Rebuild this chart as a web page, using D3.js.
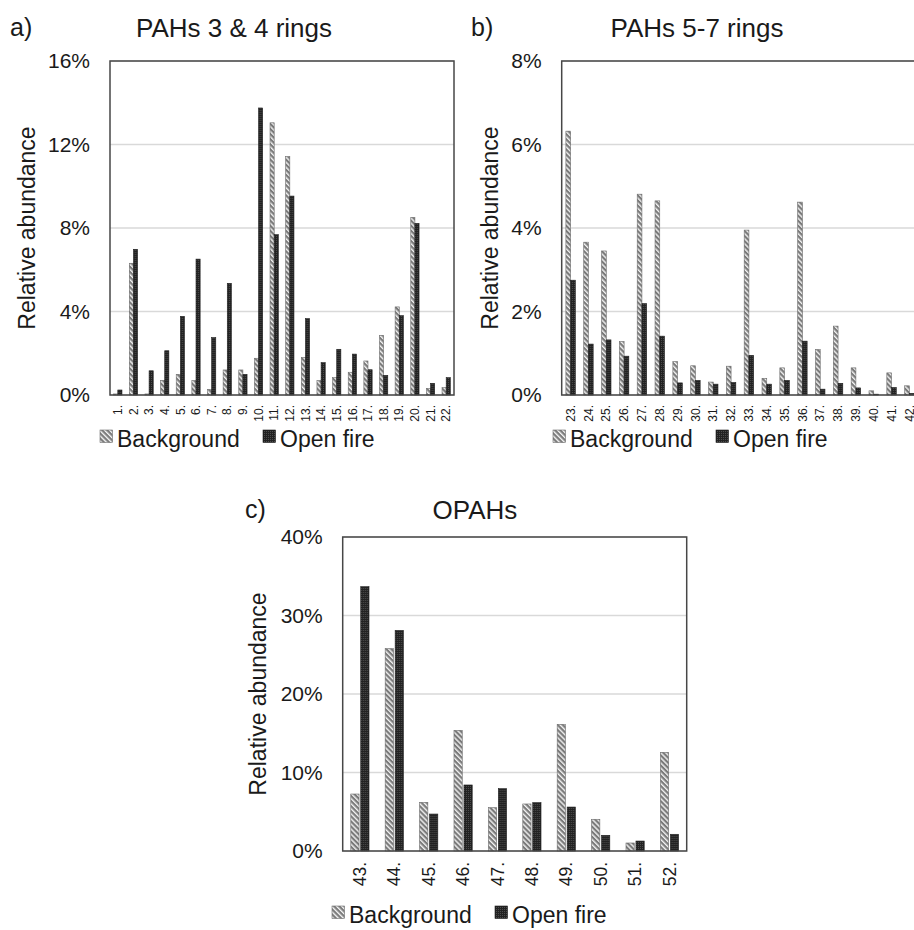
<!DOCTYPE html>
<html>
<head>
<meta charset="utf-8">
<script src="https://cdn.jsdelivr.net/npm/d3@7"></script>
<style>
  body { margin: 0; background: #fff; }
  text { font-family: "Liberation Sans", Arial, sans-serif; fill: #1a1a1a; }
</style>
</head>
<body>
<div id="chart"></div>
<script>
// values in percent

// a) PAHs 3 & 4 rings
const labelsA = ["1.", "2.", "3.", "4.", "5.", "6.", "7.", "8.", "9.", "10.", "11.",
    "12.", "13.", "14.", "15.", "16.", "17.", "18.", "19.", "20.", "21.", "22."];
const backgroundA = [0.05, 6.31, 0.05, 0.70, 0.99, 0.69, 0.27, 1.20, 1.20, 1.76, 13.04,
    11.42, 1.80, 0.69, 0.83, 1.09, 1.63, 2.86, 4.22, 8.51, 0.32, 0.35];
const openFireA = [0.24, 6.98, 1.16, 2.12, 3.77, 6.51, 2.75, 5.35, 0.99, 13.75, 7.68,
    9.53, 3.66, 1.55, 2.19, 1.96, 1.21, 0.94, 3.80, 8.22, 0.56, 0.83];
const ticksA = [0, 4, 8, 12, 16];

// b) PAHs 5-7 rings
const labelsB = ["23.", "24.", "25.", "26.", "27.", "28.", "29.", "30.", "31.", "32.",
    "33.", "34.", "35.", "36.", "37.", "38.", "39.", "40.", "41.", "42."];
const backgroundB = [6.32, 3.66, 3.45, 1.28, 4.81, 4.65, 0.80, 0.70, 0.31, 0.69,
    3.95, 0.40, 0.65, 4.62, 1.09, 1.65, 0.65, 0.10, 0.53, 0.22];
const openFireB = [2.75, 1.22, 1.32, 0.93, 2.19, 1.41, 0.29, 0.35, 0.26, 0.30,
    0.95, 0.26, 0.35, 1.29, 0.14, 0.28, 0.17, 0.02, 0.18, 0.04];
const ticksB = [0, 2, 4, 6, 8];

// c) OPAHs
const labelsC = ["43.", "44.", "45.", "46.", "47.", "48.", "49.", "50.", "51.", "52."];
const backgroundC = [7.26, 25.78, 6.20, 15.37, 5.52, 5.99, 16.14, 4.04, 1.02, 12.57];
const openFireC = [33.67, 28.10, 4.71, 8.41, 7.94, 6.16, 5.60, 2.00, 1.27, 2.13];
const ticksC = [0, 10, 20, 30, 40];

const seriesNames = ["Background", "Open fire"];

const svgWidth = 914;
const svgHeight = 930;

const svg = d3.select("#chart")
    .append("svg")
    .attr("width", svgWidth)
    .attr("height", svgHeight);

// fill patterns for the two series
const defs = svg.append("defs");

const hatch = defs.append("pattern")
    .attr("id", "hatch")
    .attr("patternUnits", "userSpaceOnUse")
    .attr("width", 3.6)
    .attr("height", 3.6)
    .attr("patternTransform", "rotate(-45)");
hatch.append("rect").attr("width", 3.6).attr("height", 3.6).attr("fill", "#7a7a7a");
hatch.append("rect").attr("width", 1.4).attr("height", 3.6).attr("fill", "#f2f2f2");

const dots = defs.append("pattern")
    .attr("id", "dots")
    .attr("patternUnits", "userSpaceOnUse")
    .attr("width", 2)
    .attr("height", 2);
dots.append("rect").attr("width", 2).attr("height", 2).attr("fill", "#222");
dots.append("rect").attr("width", 1).attr("height", 1).attr("fill", "#4d4d4d");

const fills = ["url(#hatch)", "url(#dots)"];
const strokes = ["#6b6b6b", "#1e1e1e"];

const panels = [
    {
        letter: "a)", letterX: 10, title: "PAHs 3 & 4 rings", titleX: 234, titleY: 37,
        labels: labelsA, bg: backgroundA, fire: openFireA, ticks: ticksA,
        left: 110, right: 454, top: 61, bottom: 395,
        innerGap: 0, xFont: 12, xPad: 10, yLabelX: 35,
        legendX: 100, legendY: 447
    },
    {
        letter: "b)", letterX: 471, title: "PAHs 5-7 rings", titleX: 697, titleY: 37,
        labels: labelsB, bg: backgroundB, fire: openFireB, ticks: ticksB,
        left: 561.7, right: 918.3, top: 61, bottom: 395,
        innerGap: 0, xFont: 12, xPad: 10, yLabelX: 498,
        legendX: 553, legendY: 447
    },
    {
        letter: "c)", letterX: 245, title: "OPAHs", titleX: 475, titleY: 519,
        labels: labelsC, bg: backgroundC, fire: openFireC, ticks: ticksC,
        left: 342.7, right: 686.7, top: 537, bottom: 851,
        innerGap: 0.17, xFont: 17.5, xPad: 11, yLabelX: 266,
        legendX: 332, legendY: 923
    }
];

function drawPanel(p) {
    const g = svg.append("g");

    const x = d3.scaleBand()
        .domain(p.labels)
        .range([p.left, p.right])
        .paddingInner(0.47)
        .paddingOuter(0.235);

    const xSeries = d3.scaleBand()
        .domain([0, 1])
        .range([0, x.bandwidth()])
        .paddingInner(p.innerGap);

    const y = d3.scaleLinear()
        .domain([0, p.ticks[p.ticks.length - 1]])
        .range([p.bottom, p.top]);

    // gridlines
    g.selectAll(".grid")
        .data(p.ticks)
        .join("line")
        .attr("x1", p.left)
        .attr("x2", p.right)
        .attr("y1", d => y(d))
        .attr("y2", d => y(d))
        .attr("stroke", "#d9d9d9")
        .attr("stroke-width", 1.5);

    // bars
    const rows = p.labels.map((label, i) => ({ label: label, values: [p.bg[i], p.fire[i]] }));

    const groups = g.selectAll(".cat")
        .data(rows)
        .join("g")
        .attr("transform", d => `translate(${x(d.label)}, 0)`);

    groups.selectAll("rect")
        .data(d => d.values.map((v, s) => ({ v: v, s: s })))
        .join("rect")
        .attr("x", d => xSeries(d.s))
        .attr("y", d => y(d.v))
        .attr("width", xSeries.bandwidth())
        .attr("height", d => y(0) - y(d.v))
        .attr("fill", d => fills[d.s])
        .attr("stroke", d => strokes[d.s])
        .attr("stroke-width", 0.6);

    // frame
    g.append("rect")
        .attr("x", p.left)
        .attr("y", p.top)
        .attr("width", p.right - p.left)
        .attr("height", p.bottom - p.top)
        .attr("fill", "none")
        .attr("stroke", "#474747")
        .attr("stroke-width", 1.5);

    // y axis
    const yAxis = g.append("g")
        .attr("transform", `translate(${p.left}, 0)`)
        .call(d3.axisLeft(y).tickValues(p.ticks).tickFormat(d => d + "%").tickSize(0).tickPadding(20));
    yAxis.select(".domain").remove();
    yAxis.selectAll("text")
        .attr("font-size", 21)
        .attr("font-family", null);

    // x axis, labels turned to read upwards
    const xAxis = g.append("g")
        .attr("transform", `translate(0, ${p.bottom})`)
        .call(d3.axisBottom(x).tickSize(0));
    xAxis.select(".domain").remove();
    xAxis.selectAll("text")
        .attr("font-size", p.xFont)
        .attr("font-family", null)
        .attr("transform", "rotate(-90)")
        .attr("x", -p.xPad)
        .attr("y", 0)
        .attr("dy", "0.35em")
        .style("text-anchor", "end");

    // axis title
    g.append("text")
        .attr("transform", `translate(${p.yLabelX}, ${(p.top + p.bottom) / 2}) rotate(-90)`)
        .attr("text-anchor", "middle")
        .attr("font-size", 23)
        .text("Relative abundance");

    // chart title and panel letter
    g.append("text")
        .attr("x", p.titleX)
        .attr("y", p.titleY)
        .attr("text-anchor", "middle")
        .attr("font-size", 26)
        .text(p.title);

    g.append("text")
        .attr("x", p.letterX)
        .attr("y", p.titleY - 1)
        .attr("font-size", 25)
        .text(p.letter);

    // legend
    const legend = g.append("g")
        .attr("transform", `translate(${p.legendX}, ${p.legendY})`);
    const offsets = [0, 163];
    seriesNames.forEach((name, s) => {
        legend.append("rect")
            .attr("x", offsets[s])
            .attr("y", -17)
            .attr("width", 12.5)
            .attr("height", 12.5)
            .attr("fill", fills[s])
            .attr("stroke", strokes[s])
            .attr("stroke-width", 0.6);
        legend.append("text")
            .attr("x", offsets[s] + 17)
            .attr("y", 0)
            .attr("font-size", 23)
            .text(name);
    });
}

panels.forEach(drawPanel);
</script>
</body>
</html>
